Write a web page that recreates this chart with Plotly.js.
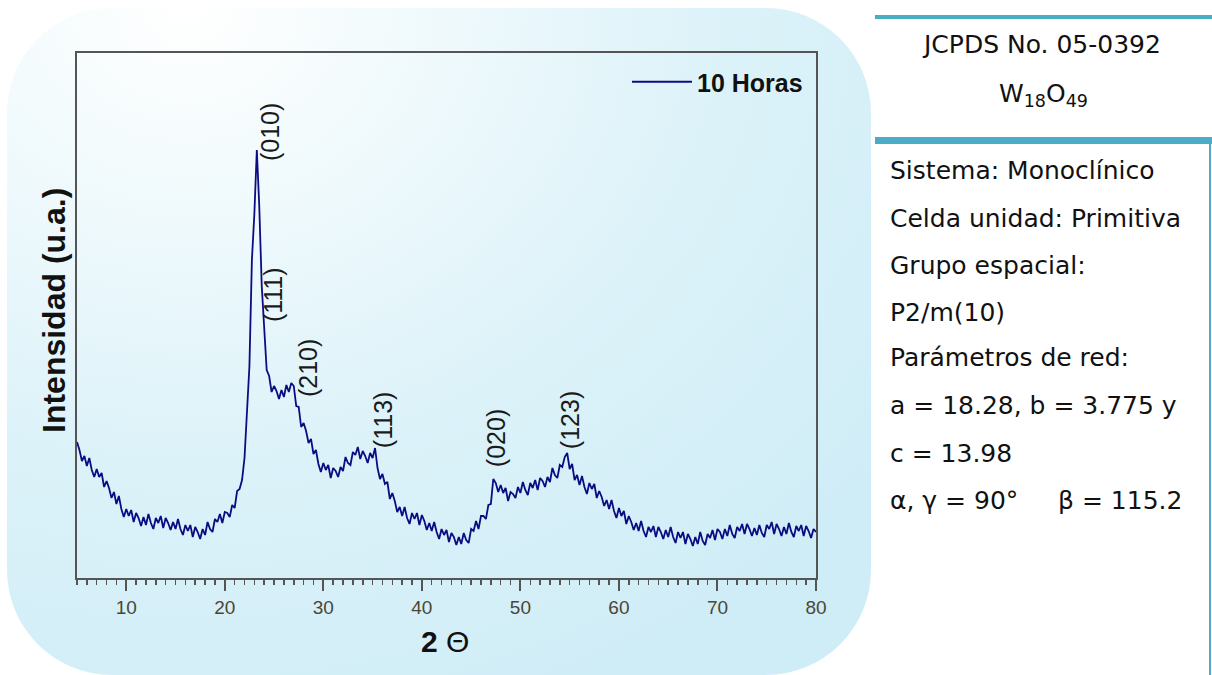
<!DOCTYPE html>
<html>
<head>
<meta charset="utf-8">
<script src="https://cdn.plot.ly/plotly-3.0.1.min.js"></script>
<style>
  html, body { margin: 0; padding: 0; background: #ffffff; }
  #wrap { position: relative; width: 1212px; height: 675px; overflow: hidden; }
  #bg { position: absolute; left: 7px; top: 8px; width: 864px; height: 667px; border-radius: 105px;
        background: radial-gradient(ellipse 900px 760px at 180px 0px, #ffffff 0%, #eef9fc 30%, #dcf2f9 60%, #cfedf7 100%); }
  #chart { position: absolute; left: 0; top: 0; width: 1212px; height: 675px; }
</style>
</head>
<body>
<div id="wrap">
  <div id="bg"></div>
  <div id="chart"></div>
</div>
<script>
// ---- data ----
const twoTheta = [
 5,5.25,5.5,5.75, 6,6.25,6.5,6.75, 7,7.25,7.5,7.75, 8,8.25,8.5,8.75, 9,9.25,9.5,9.75,
 10,10.25,10.5,10.75, 11,11.25,11.5,11.75, 12,12.25,12.5,12.75, 13,13.25,13.5,13.75, 14,14.25,14.5,14.75,
 15,15.25,15.5,15.75, 16,16.25,16.5,16.75, 17,17.25,17.5,17.75, 18,18.25,18.5,18.75, 19,19.25,19.5,19.75,
 20,20.25,20.5,20.75, 21,21.25,21.5,21.75, 22,22.25,22.5,22.75, 23,23.25,23.5,23.75, 24,24.25,24.5,24.75,
 25,25.25,25.5,25.75, 26,26.25,26.5,26.75, 27,27.25,27.5,27.75, 28,28.25,28.5,28.75, 29,29.25,29.5,29.75,
 30,30.25,30.5,30.75, 31,31.25,31.5,31.75, 32,32.25,32.5,32.75, 33,33.25,33.5,33.75, 34,34.25,34.5,34.75,
 35,35.25,35.5,35.75, 36,36.25,36.5,36.75, 37,37.25,37.5,37.75, 38,38.25,38.5,38.75, 39,39.25,39.5,39.75,
 40,40.25,40.5,40.75, 41,41.25,41.5,41.75, 42,42.25,42.5,42.75, 43,43.25,43.5,43.75, 44,44.25,44.5,44.75,
 45,45.25,45.5,45.75, 46,46.25,46.5,46.75, 47,47.25,47.5,47.75, 48,48.25,48.5,48.75, 49,49.25,49.5,49.75,
 50,50.25,50.5,50.75, 51,51.25,51.5,51.75, 52,52.25,52.5,52.75, 53,53.25,53.5,53.75, 54,54.25,54.5,54.75,
 55,55.25,55.5,55.75, 56,56.25,56.5,56.75, 57,57.25,57.5,57.75, 58,58.25,58.5,58.75, 59,59.25,59.5,59.75,
 60,60.25,60.5,60.75, 61,61.25,61.5,61.75, 62,62.25,62.5,62.75, 63,63.25,63.5,63.75, 64,64.25,64.5,64.75,
 65,65.25,65.5,65.75, 66,66.25,66.5,66.75, 67,67.25,67.5,67.75, 68,68.25,68.5,68.75, 69,69.25,69.5,69.75,
 70,70.25,70.5,70.75, 71,71.25,71.5,71.75, 72,72.25,72.5,72.75, 73,73.25,73.5,73.75, 74,74.25,74.5,74.75,
 75,75.25,75.5,75.75, 76,76.25,76.5,76.75, 77,77.25,77.5,77.75, 78,78.25,78.5,78.75, 79,79.25,79.5,79.75,
 80
];
const intensity10h = [
 136,128,117,122, 112,120,108,101, 109,101,105,91, 97,90,80,86, 74,82,69,61,
 69,62,68,56, 65,60,52,61, 53,64,55,49, 60,55,62,50, 60,55,48,56,
 49,59,49,43, 53,47,53,41, 51,46,39,49, 43,56,49,46, 59,56,64,55,
 66,65,61,73, 70,87,89,98, 120,166,212,318, 364,428,371,292, 248,208,202,186,
 192,187,179,188, 181,193,186,195, 192,172,171,151, 155,147,135,139, 124,128,114,106,
 115,108,113,100, 110,107,101,111, 107,121,115,113, 126,123,131,119, 127,122,115,125,
 120,130,110,99, 104,94,96,79, 85,77,66,71, 62,71,60,54, 65,59,65,53,
 63,57,48,55, 47,56,46,39, 49,43,48,36, 45,41,33,41, 34,45,38,35,
 49,47,57,49, 62,62,59,73, 74,99,95,86, 93,85,90,77, 86,84,80,91,
 85,96,88,83, 95,90,98,88, 100,97,91,101, 96,110,103,100, 113,111,121,125,
 109,114,98,103, 93,102,91,84, 95,89,94,80, 87,81,72,78, 69,78,67,60,
 70,62,67,54, 62,56,48,55, 47,57,47,41, 51,46,52,41, 51,46,39,48,
 41,51,41,35, 46,40,46,34, 44,39,32,41, 34,46,37,33, 44,40,48,38,
 49,46,39,49, 42,53,44,40, 51,47,54,44, 54,49,42,50, 43,53,45,41,
 53,49,56,44, 54,49,42,51, 44,55,46,41, 52,47,53,42, 52,47,40,49,
 46
];
const seriesName = '10 Horas';
const xTickVals = [10, 20, 30, 40, 50, 60, 70, 80];
const xTickText = ['10', '20', '30', '40', '50', '60', '70', '80'];
const peakLabels = ['(010)', '(111)', '(210)', '(113)', '(020)', '(123)'];
const peakLabelTheta = [24.59, 24.9, 28.45, 36.07, 47.54, 55.05];
const peakLabelInt = [446, 283, 210, 158, 140, 158];
const cardTitle = ['JCPDS No. 05-0392', 'W<sub>18</sub>O<sub>49</sub>'];
const cardLines = [
  'Sistema: Monoclínico',
  'Celda unidad: Primitiva',
  'Grupo espacial:',
  'P2/m(10)',
  'Parámetros de red:',
  'a = 18.28, b = 3.775 y',
  'c = 13.98',
  'α, γ = 90°     β = 115.2'
];

// ---- layout helpers (pixel -> paper coordinates) ----
const L = 77, R = 816, T = 53, B = 578;
const px = v => (v - L) / (R - L);
const py = v => (B - v) / (B - T);

const teal = '#4bacc6';
const sans = 'Liberation Sans, Arial, sans-serif';
const cardFont = { family: 'DejaVu Sans, sans-serif', size: 25, color: '#111111' };

const annotations = [];
peakLabels.forEach((t, i) => {
  annotations.push({ x: peakLabelTheta[i], y: peakLabelInt[i], xref: 'x', yref: 'y', text: t,
    xanchor: 'center', yanchor: 'middle',
    showarrow: false, textangle: -90, font: { family: sans, size: 25, color: '#1a1a1a' } });
});
annotations.push({ x: px(54), y: py(311), xref: 'paper', yref: 'paper', text: 'Intensidad (u.a.)',
  xanchor: 'center', yanchor: 'middle',
  showarrow: false, textangle: -90, font: { family: sans, size: 32, color: '#111111', weight: 'bold' } });
annotations.push({ x: px(445), y: py(641), xref: 'paper', yref: 'paper', text: '<b>2</b> Θ',
  xanchor: 'center', yanchor: 'middle',
  showarrow: false, font: { family: sans, size: 30, color: '#111111' } });
annotations.push({ x: px(1041), y: py(45), xref: 'paper', yref: 'paper', text: cardTitle[0],
  showarrow: false, xanchor: 'center', yanchor: 'middle', font: cardFont });
annotations.push({ x: px(1043), y: py(95), xref: 'paper', yref: 'paper', text: cardTitle[1],
  showarrow: false, xanchor: 'center', yanchor: 'middle', font: cardFont });
const lineY = [171, 218, 265, 312, 358, 406, 453, 500];
cardLines.forEach((t, i) => {
  annotations.push({ x: px(888), y: py(lineY[i]), xref: 'paper', yref: 'paper', text: t,
    showarrow: false, xanchor: 'left', yanchor: 'middle', font: cardFont });
});

const shapes = [
  { type: 'rect', xref: 'paper', yref: 'paper', x0: px(875), x1: px(1212), y0: py(15), y1: py(19),
    fillcolor: teal, line: { width: 0 } },
  { type: 'rect', xref: 'paper', yref: 'paper', x0: px(875), x1: px(1212), y0: py(137), y1: py(144),
    fillcolor: teal, line: { width: 0 } },
  { type: 'rect', xref: 'paper', yref: 'paper', x0: px(1209), x1: px(1211), y0: py(137), y1: py(676),
    fillcolor: teal, line: { width: 0 } }
];

const trace = {
  x: twoTheta, y: intensity10h, type: 'scatter', mode: 'lines', name: seriesName,
  line: { color: '#0c0c82', width: 1.8 }
};

const layout = {
  width: 1212, height: 675,
  margin: { l: L, r: 1212 - R, t: T, b: 675 - B, pad: 0 },
  paper_bgcolor: 'rgba(0,0,0,0)', plot_bgcolor: 'rgba(0,0,0,0)',
  showlegend: true,
  legend: { x: px(808), xanchor: 'right', y: py(82), yanchor: 'middle', bgcolor: 'rgba(0,0,0,0)',
    font: { family: sans, size: 25, color: '#111111', weight: 'bold' }, itemwidth: 60 },
  xaxis: {
    range: [5, 80], tickvals: xTickVals, ticktext: xTickText, ticks: 'outside', ticklen: 11, tickwidth: 2,
    tickcolor: '#555555', showline: true, linewidth: 2, linecolor: '#555555', mirror: true,
    showgrid: false, zeroline: false,
    minor: { dtick: 1, tick0: 0, ticks: 'outside', ticklen: 5, tickwidth: 1.5, tickcolor: '#555555', showgrid: false },
    tickfont: { family: sans, size: 19, color: '#4b4636' }
  },
  yaxis: {
    range: [0, 525], showticklabels: false, ticks: '', showline: true, linewidth: 2, linecolor: '#555555',
    mirror: true, showgrid: false, zeroline: false
  },
  annotations: annotations,
  shapes: shapes
};

Plotly.newPlot('chart', [trace], layout, { displayModeBar: false, staticPlot: true });
</script>
</body>
</html>
